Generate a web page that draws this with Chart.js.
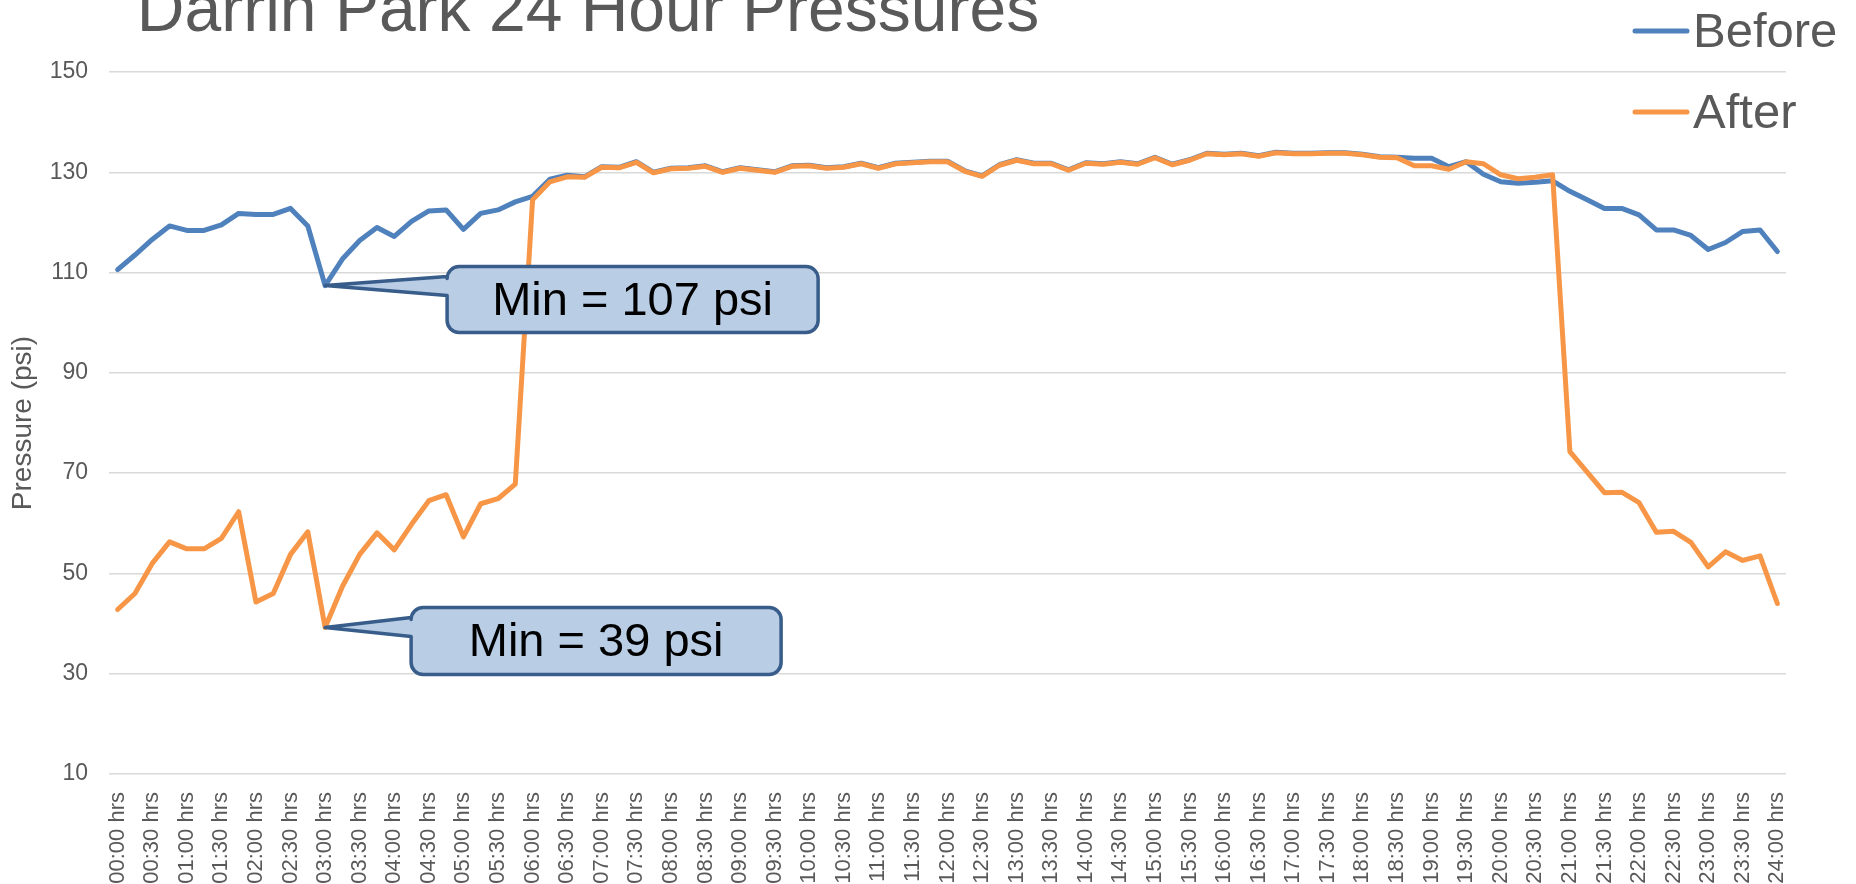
<!DOCTYPE html>
<html>
<head>
<meta charset="utf-8">
<script src="https://cdn.jsdelivr.net/npm/chart.js@4/dist/chart.umd.min.js"></script>
<style>
  html, body { margin: 0; padding: 0; background: #fff; }
  canvas { display: block; }
</style>
</head>
<body>
<canvas id="grafico" width="1856" height="884"></canvas>
<script>
// horas cada 15 min
let horas = [
  "00:00 hrs","00:15 hrs","00:30 hrs","00:45 hrs","01:00 hrs","01:15 hrs","01:30 hrs","01:45 hrs",
  "02:00 hrs","02:15 hrs","02:30 hrs","02:45 hrs","03:00 hrs","03:15 hrs","03:30 hrs","03:45 hrs",
  "04:00 hrs","04:15 hrs","04:30 hrs","04:45 hrs","05:00 hrs","05:15 hrs","05:30 hrs","05:45 hrs",
  "06:00 hrs","06:15 hrs","06:30 hrs","06:45 hrs","07:00 hrs","07:15 hrs","07:30 hrs","07:45 hrs",
  "08:00 hrs","08:15 hrs","08:30 hrs","08:45 hrs","09:00 hrs","09:15 hrs","09:30 hrs","09:45 hrs",
  "10:00 hrs","10:15 hrs","10:30 hrs","10:45 hrs","11:00 hrs","11:15 hrs","11:30 hrs","11:45 hrs",
  "12:00 hrs","12:15 hrs","12:30 hrs","12:45 hrs","13:00 hrs","13:15 hrs","13:30 hrs","13:45 hrs",
  "14:00 hrs","14:15 hrs","14:30 hrs","14:45 hrs","15:00 hrs","15:15 hrs","15:30 hrs","15:45 hrs",
  "16:00 hrs","16:15 hrs","16:30 hrs","16:45 hrs","17:00 hrs","17:15 hrs","17:30 hrs","17:45 hrs",
  "18:00 hrs","18:15 hrs","18:30 hrs","18:45 hrs","19:00 hrs","19:15 hrs","19:30 hrs","19:45 hrs",
  "20:00 hrs","20:15 hrs","20:30 hrs","20:45 hrs","21:00 hrs","21:15 hrs","21:30 hrs","21:45 hrs",
  "22:00 hrs","22:15 hrs","22:30 hrs","22:45 hrs","23:00 hrs","23:15 hrs","23:30 hrs","23:45 hrs",
  "24:00 hrs"
]

let antes = [
  110.6,113.5,116.6,119.3,118.4,118.4,119.5,121.8,121.6,121.6,122.8,119.3,107.4,112.7,116.4,119.0,
  117.2,120.2,122.3,122.5,118.6,121.8,122.5,124.1,125.2,128.6,129.4,129.1,131.1,131.0,132.1,130.0,
  130.8,130.9,131.3,130.1,130.9,130.5,130.1,131.3,131.4,130.9,131.1,131.8,130.9,131.8,132.0,132.2,
  132.2,130.3,129.3,131.5,132.5,131.8,131.8,130.5,131.9,131.7,132.1,131.7,133.0,131.6,132.5,133.8,
  133.6,133.8,133.3,134.0,133.8,133.8,133.9,133.9,133.6,133.1,133.0,132.8,132.8,131.1,132.1,129.6,
  128.1,127.8,128.0,128.3,126.2,124.5,122.8,122.8,121.5,118.5,118.5,117.4,114.6,116.0,118.2,118.5,
  114.2
]

let despues = [
  42.8,46.0,52.0,56.3,54.9,54.9,57.0,62.3,44.3,46.0,53.8,58.3,39.2,47.4,53.8,58.1,
  54.7,59.8,64.5,65.7,57.3,63.9,64.9,67.8,124.5,128.1,129.1,129.0,131.0,130.9,132.0,129.9,
  130.7,130.8,131.2,130.0,130.8,130.4,130.0,131.2,131.3,130.8,131.0,131.7,130.8,131.7,131.9,132.1,
  132.1,130.2,129.2,131.4,132.4,131.7,131.7,130.4,131.8,131.6,132.0,131.6,132.9,131.5,132.4,133.7,
  133.5,133.7,133.2,133.9,133.7,133.7,133.8,133.8,133.5,133.0,132.9,131.3,131.3,130.6,132.1,131.7,
  129.5,128.7,129.0,129.5,74.3,70.2,66.1,66.2,64.1,58.2,58.4,56.2,51.3,54.3,52.6,53.5,
  44.0
]

let series = ["Before", "After"]
let colores = ["#4f81bd", "#f79646"]
let yTicks = [10, 30, 50, 70, 90, 110, 130, 150]

let titulo = "Darrin Park 24 Hour Pressures"
let ejeY = "Pressure (psi)"

// notas de minimo
let notaTexto = ["Min = 107 psi", "Min = 39 psi"]
let notaSerie = [0, 1]
let notaPunto = [12, 12]
// caja relativa a la punta (estilo)
let notaCaja = [
  {dx: 122, dy: -19, w: 371, h: 66},
  {dx: 86, dy: -20, w: 370, h: 67}
]

const gris = "#595959"
const fuente = "'Liberation Sans', Arial, sans-serif"

let tituloPlugin = {
  id: "tituloPlugin",
  afterDraw(chart) {
    let ctx = chart.ctx
    ctx.save()
    ctx.fillStyle = gris
    ctx.font = "66px " + fuente
    ctx.textAlign = "center"
    ctx.textBaseline = "alphabetic"
    ctx.fillText(titulo, 588, 31)

    // leyenda
    ctx.font = "49px " + fuente
    ctx.textAlign = "left"
    ctx.textBaseline = "middle"
    let filas = [31, 112]
    series.forEach((s, i) => {
      ctx.strokeStyle = colores[i]
      ctx.lineWidth = 5
      ctx.lineCap = "round"
      ctx.beginPath()
      ctx.moveTo(1635, filas[i])
      ctx.lineTo(1687, filas[i])
      ctx.stroke()
      ctx.fillStyle = gris
      ctx.fillText(s, 1693, filas[i] + 2)
    })
    ctx.restore()
  }
}

let notasPlugin = {
  id: "notasPlugin",
  afterDatasetsDraw(chart) {
    let ctx = chart.ctx
    let x = chart.scales.x
    let y = chart.scales.y
    ctx.save()
    notaTexto.forEach((txt, i) => {
      let ds = notaSerie[i] == 0 ? antes : despues
      let px = x.getPixelForValue(notaPunto[i])
      let py = y.getPixelForValue(ds[notaPunto[i]])
      let c = notaCaja[i]
      let x0 = px + c.dx, y0 = py + c.dy, x1 = x0 + c.w, y1 = y0 + c.h
      let r = 12
      ctx.beginPath()
      ctx.moveTo(x0 + r, y0)
      ctx.lineTo(x1 - r, y0)
      ctx.arcTo(x1, y0, x1, y0 + r, r)
      ctx.lineTo(x1, y1 - r)
      ctx.arcTo(x1, y1, x1 - r, y1, r)
      ctx.lineTo(x0 + r, y1)
      ctx.arcTo(x0, y1, x0, y1 - r, r)
      ctx.lineTo(x0, y0 + 29)
      ctx.lineTo(px, py)
      ctx.lineTo(x0, y0 + 10)
      ctx.lineTo(x0, y0 + r)
      ctx.arcTo(x0, y0, x0 + r, y0, r)
      ctx.closePath()
      ctx.fillStyle = "#b9cde5"
      ctx.fill()
      ctx.lineWidth = 3.5
      ctx.lineJoin = "round"
      ctx.strokeStyle = "#385d8a"
      ctx.stroke()
      ctx.fillStyle = "#000"
      ctx.font = "47px " + fuente
      ctx.textAlign = "center"
      ctx.textBaseline = "middle"
      ctx.fillText(txt, (x0 + x1) / 2, (y0 + y1) / 2 + 2)
    })
    ctx.restore()
  }
}

let ctx = document.getElementById("grafico").getContext("2d")
let miGrafico = new Chart(ctx, {
  type: "line",
  data: {
    labels: horas,
    datasets: [{
      label: series[0],
      data: antes,
      borderColor: colores[0],
      backgroundColor: colores[0],
      borderWidth: 5,
      pointRadius: 0,
      tension: 0,
      borderJoinStyle: "round",
      borderCapStyle: "round",
      order: 2
    }, {
      label: series[1],
      data: despues,
      borderColor: colores[1],
      backgroundColor: colores[1],
      borderWidth: 5,
      pointRadius: 0,
      tension: 0,
      borderJoinStyle: "round",
      borderCapStyle: "round",
      order: 1
    }]
  },
  options: {
    responsive: false,
    animation: false,
    layout: { padding: { top: 72, right: 70, left: 0, bottom: 0 } },
    plugins: {
      legend: { display: false },
      title: { display: false },
      tooltip: { enabled: false }
    },
    scales: {
      x: {
        offset: true,
        grid: { display: false },
        border: { display: false },
        afterFit: s => { s.height = 110 },
        ticks: {
          autoSkip: false,
          maxRotation: 90,
          minRotation: 90,
          padding: 10,
          color: gris,
          font: { family: fuente, size: 22 },
          callback: function(v, i) { return i % 2 == 0 ? this.getLabelForValue(v) : "" }
        }
      },
      y: {
        min: yTicks[0],
        max: yTicks[yTicks.length - 1],
        afterFit: s => { s.width = 109 },
        afterBuildTicks: s => { s.ticks = yTicks.map(v => ({ value: v })) },
        grid: { color: "#d9d9d9", lineWidth: 1.5, drawTicks: false },
        border: { display: false },
        ticks: {
          padding: 21,
          color: gris,
          font: { family: fuente, size: 23 }
        },
        title: {
          display: true,
          text: ejeY,
          color: gris,
          font: { family: fuente, size: 28 },
          padding: { top: 6, bottom: 0 }
        }
      }
    }
  },
  plugins: [tituloPlugin, notasPlugin]
})
</script>
</body>
</html>
